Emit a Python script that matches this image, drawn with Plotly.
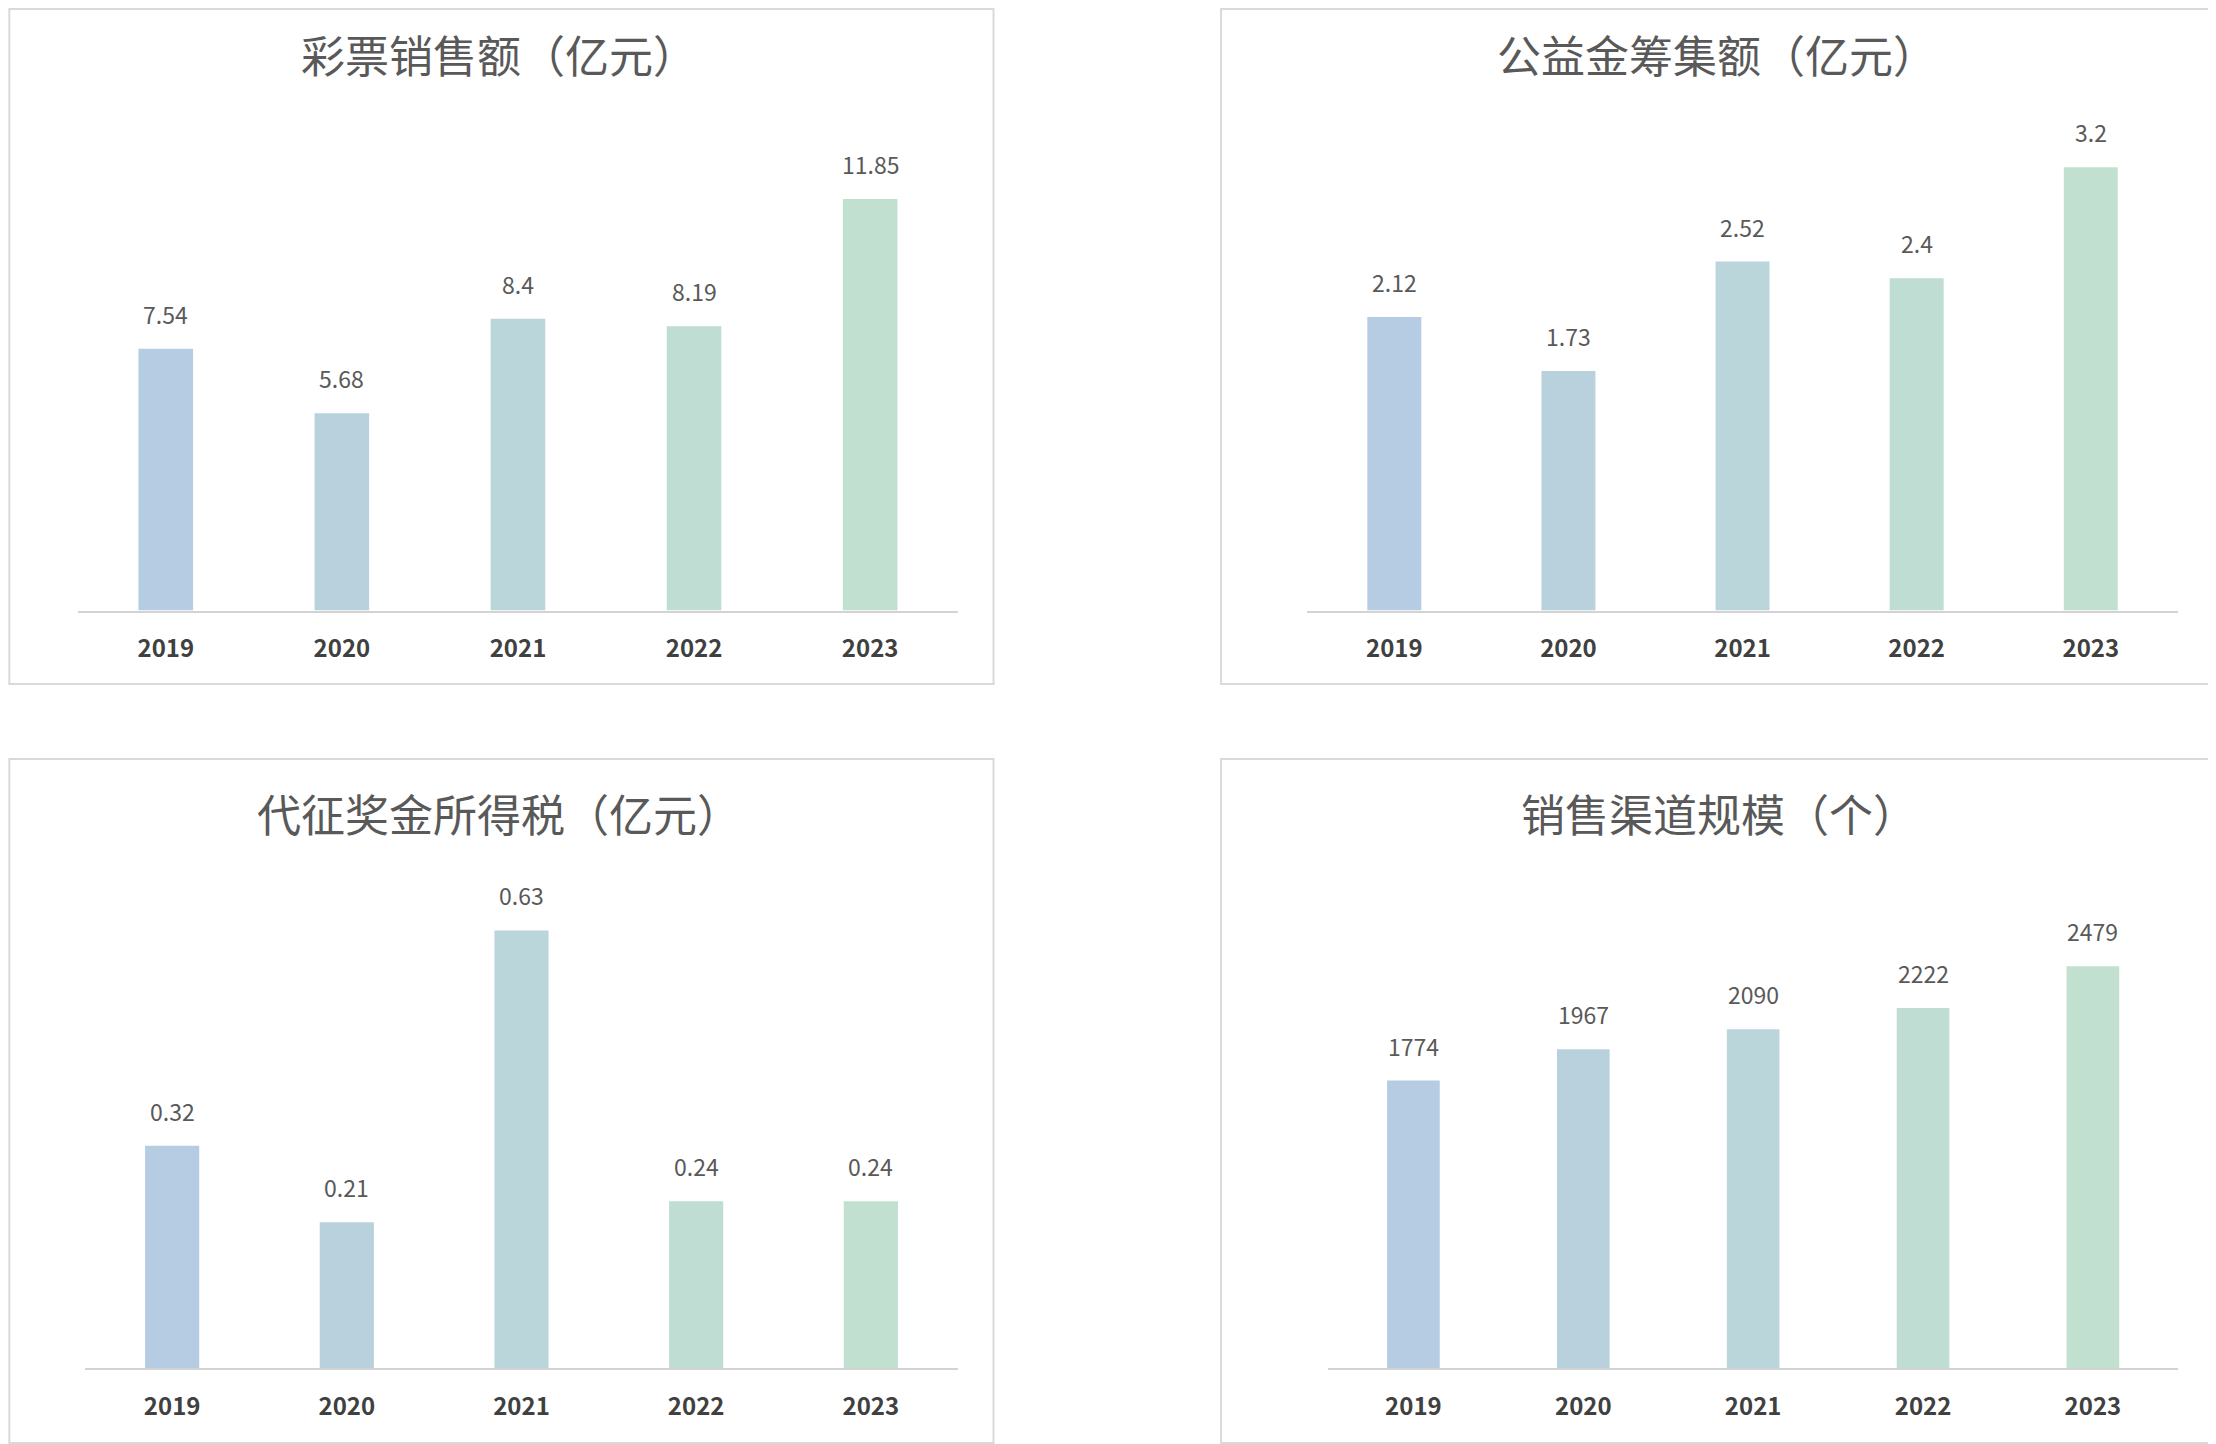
import plotly.graph_objects as go

# data
years = ['2019', '2020', '2021', '2022', '2023']
sales = [7.54, 5.68, 8.4, 8.19, 11.85]
welfare = [2.12, 1.73, 2.52, 2.4, 3.2]
tax = [0.32, 0.21, 0.63, 0.24, 0.24]
channels = [1774, 1967, 2090, 2222, 2479]

sales_labels = ['7.54', '5.68', '8.4', '8.19', '11.85']
welfare_labels = ['2.12', '1.73', '2.52', '2.4', '3.2']
tax_labels = ['0.32', '0.21', '0.63', '0.24', '0.24']
channel_labels = ['1774', '1967', '2090', '2222', '2479']

titles = ['彩票销售额（亿元）', '公益金筹集额（亿元）', '代征奖金所得税（亿元）', '销售渠道规模（个）']

bar_colors = ['#b5cce3', '#b8d1dc', '#bbd6db', '#c0ddd3', '#c2e0cf']

# the page body has an 8px margin, so the figure is made 8px smaller to fit the window
WIN_W, WIN_H = 2216, 1444
BODY = 8
W, H = WIN_W - BODY, WIN_H - BODY
FONT = 'Noto Sans CJK SC'

# geometry measured on a 1568px wide copy of the reference
S = WIN_W / 1568.0


def px(x):
    return min(max((x * S - BODY) / W, 0.0006), 0.9994)


def py(y):
    return min(max(1 - (y * S - BODY) / H, 0.0007), 0.9993)


# (x0, x1) plot area, (top, baseline), y range, frame (x0, x1, y0, y1), title (x, y)
panels = [
    (sales, sales_labels, (55, 678), (88, 432), [0, 14], (1, 703, 1, 484), (353, 38)),
    (welfare, welfare_labels, (925, 1541), (89, 432), [0, 3.5], (864, 1567, 1, 484), (1215, 38)),
    (tax, tax_labels, (60, 678), (624, 968), [0, 0.7], (1, 703, 537, 1021), (353, 575)),
    (channels, channel_labels, (940, 1541), (624, 968), [0, 3000], (864, 1567, 537, 1021), (1216, 575)),
]

fig = go.Figure()
annotations = []
shapes = []

for i, (vals, labels, xa, ya, yrng, box, tpos) in enumerate(panels):
    n = '' if i == 0 else str(i + 1)
    fig.add_trace(go.Bar(
        x=years, y=vals, width=0.31,
        marker=dict(color=bar_colors, line=dict(width=0)),
        xaxis='x' + n, yaxis='y' + n,
        showlegend=False, hoverinfo='x+y'
    ))
    fig.update_layout({
        'xaxis' + n: dict(
            domain=[px(xa[0]), px(xa[1])], anchor='y' + n, type='category',
            range=[-0.5, len(years) - 0.5],
            showline=True, linecolor='#d3d3d3', linewidth=2,
            showgrid=False, zeroline=False, ticks='',
            ticklabelstandoff=16,
            tickfont=dict(family=FONT, size=24, color='#404040', weight='bold'),
        ),
        'yaxis' + n: dict(
            domain=[py(ya[1]), py(ya[0])], anchor='x' + n, range=yrng,
            visible=False, showgrid=False, zeroline=False,
        ),
    })
    # value labels above the bars (x given as the category's serial number)
    for j, (v, lab) in enumerate(zip(vals, labels)):
        annotations.append(dict(
            x=j, y=v, xref='x' + n, yref='y' + n, text=lab,
            showarrow=False, yanchor='bottom', yshift=16,
            font=dict(family=FONT, size=23, color='#595959'),
        ))
    # panel title
    annotations.append(dict(
        x=px(tpos[0]), y=py(tpos[1]), xref='paper', yref='paper', text=titles[i],
        showarrow=False, xanchor='center', yanchor='middle',
        font=dict(family=FONT, size=44, color='#595959'),
    ))
    # panel frame
    shapes.append(dict(
        type='rect', xref='paper', yref='paper',
        x0=px(box[0]), x1=px(box[1]), y0=py(box[3]), y1=py(box[2]),
        line=dict(color='#d9d9d9', width=2), fillcolor='rgba(0,0,0,0)',
    ))

fig.update_layout(
    width=W, height=H,
    margin=dict(l=0, r=0, t=0, b=0, autoexpand=False),
    paper_bgcolor='white', plot_bgcolor='white',
    annotations=annotations, shapes=shapes,
    font=dict(family=FONT),
)

fig.write_html('out.html')
